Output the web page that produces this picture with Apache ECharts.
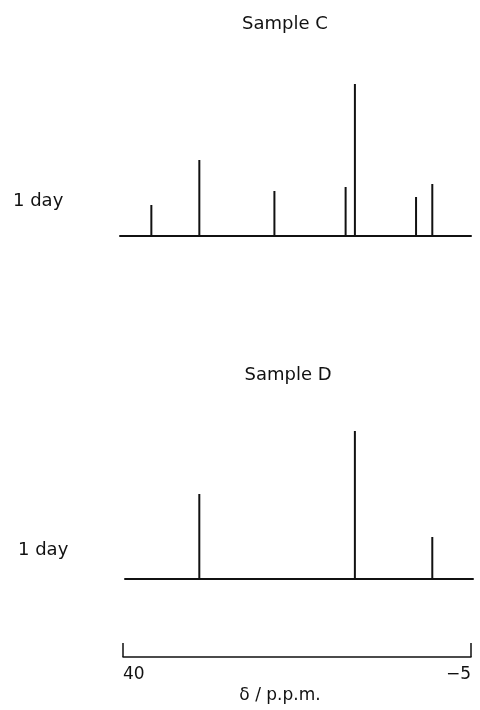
<!DOCTYPE html>
<html>
<head>
<meta charset="utf-8">
<script src="https://cdn.jsdelivr.net/npm/echarts@6/dist/echarts.min.js"></script>
<style>
    html, body { margin: 0; padding: 0; background: #fff; }
    #chart { width: 480px; height: 710px; }
</style>
</head>
<body>
<div id="chart"></div>
<script>
// chemical shifts (ppm) and peak heights
const shiftsC = [36.3, 30.1, 20.4, 11.2, 10.0, 2.1, 0.0]
const heightsC = [31, 76, 45, 49, 152, 39, 52]
const shiftsD = [30.1, 10.0, 0.0]
const heightsD = [85, 148, 42]
const scaleTicks = [40, -5]
const panelTitles = ['Sample C', 'Sample D']
const rowLabel = '1 day'

const font = '"DejaVu Sans", sans-serif'
const ink = '#111'

const pairs = (xs, ys) => xs.map((x, i) => [x, ys[i]])

const chart = echarts.init(document.getElementById('chart'), null, { renderer: 'canvas' })

const hiddenY = {
    type: 'value',
    min: 0,
    max: 160,
    show: false
}

const peakAxis = (gridIndex, min, max) => ({
    type: 'value',
    gridIndex,
    inverse: true,
    min,
    max,
    splitLine: { show: false },
    axisTick: { show: false },
    axisLabel: { show: false },
    axisLine: { show: true, onZero: false, lineStyle: { color: ink, width: 2 } }
})

const titleStyle = { fontFamily: font, fontSize: 18, fontWeight: 'normal', color: ink }

chart.setOption({
    animation: false,
    title: [
        { text: panelTitles[0], left: 280, top: 10, textAlign: 'center', textStyle: titleStyle },
        { text: panelTitles[1], left: 283, top: 361, textAlign: 'center', textStyle: titleStyle },
        { text: rowLabel, left: 8, top: 187, textStyle: titleStyle },
        { text: rowLabel, left: 13, top: 536, textStyle: titleStyle }
    ],
    grid: [
        { left: 120, right: 9, top: 76, height: 160, containLabel: false, outerBoundsMode: 'none' },
        { left: 125, right: 7, top: 419, height: 160, containLabel: false, outerBoundsMode: 'none' },
        { left: 123, right: 9, top: 600, height: 57, containLabel: false, outerBoundsMode: 'none' }
    ],
    xAxis: [
        peakAxis(0, -5, 40.35),
        peakAxis(1, -5.26, 39.7),
        {
            type: 'value',
            gridIndex: 2,
            inverse: true,
            min: -5,
            max: 40,
            splitLine: { show: false },
            axisLine: { show: true, onZero: false, lineStyle: { color: ink, width: 1.5 } },
            axisTick: {
                show: true,
                inside: true,
                length: 14,
                customValues: scaleTicks,
                lineStyle: { color: ink, width: 1.5 }
            },
            axisLabel: {
                show: true,
                customValues: scaleTicks,
                margin: 9,
                fontFamily: font,
                fontSize: 17,
                color: ink,
                alignMinLabel: 'left',
                alignMaxLabel: 'right',
                formatter: v => (v < 0 ? '\u2212' + Math.abs(v) : String(v))
            },
            name: 'δ / p.p.m.',
            nameLocation: 'middle',
            nameGap: 30,
            nameTextStyle: { fontFamily: font, fontSize: 17, color: ink, padding: [0, 34, 0, 0] }
        }
    ],
    yAxis: [
        Object.assign({ gridIndex: 0 }, hiddenY),
        Object.assign({ gridIndex: 1 }, hiddenY),
        Object.assign({ gridIndex: 2 }, hiddenY)
    ],
    series: [
        {
            type: 'bar',
            xAxisIndex: 0,
            yAxisIndex: 0,
            barWidth: 2,
            itemStyle: { color: ink },
            data: pairs(shiftsC, heightsC)
        },
        {
            type: 'bar',
            xAxisIndex: 1,
            yAxisIndex: 1,
            barWidth: 2,
            itemStyle: { color: ink },
            data: pairs(shiftsD, heightsD)
        }
    ]
})
</script>
</body>
</html>
